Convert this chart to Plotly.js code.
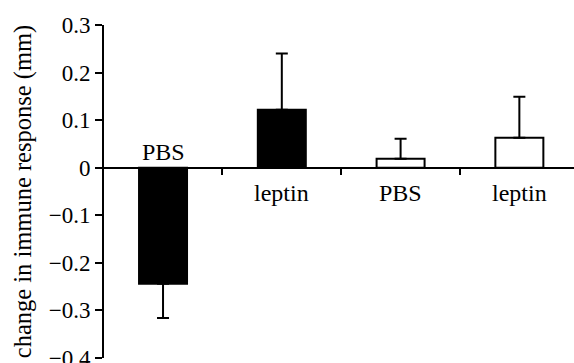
<!DOCTYPE html>
<html><head><meta charset="utf-8">
<script src="https://cdn.plot.ly/plotly-3.0.1.min.js"></script>
<style>html,body{margin:0;padding:0;background:#fff}</style>
</head><body>
<div id="chart" style="width:574px;height:363px"></div>
<script>
const categories = ["PBS", "leptin", "PBS", "leptin"];
const means = [-0.244, 0.122, 0.019, 0.063];
const errors = [0.072, 0.118, 0.042, 0.086];
const fills = ["#000000", "#000000", "#ffffff", "#ffffff"];
const yTicks = [-0.4, -0.3, -0.2, -0.1, 0, 0.1, 0.2, 0.3];

const xs = categories.map((_, i) => i);
const errUp = means.map((m, i) => m >= 0 ? errors[i] : 0);
const errDown = means.map((m, i) => m < 0 ? errors[i] : 0);
const font = "Liberation Serif";

const trace = {
  type: "bar",
  x: xs,
  y: means,
  width: 0.404,
  marker: {color: fills, line: {color: "#000", width: 2}},
  error_y: {type: "data", symmetric: false, array: errUp, arrayminus: errDown,
            color: "#000", thickness: 2, width: 6},
  hoverinfo: "none"
};

const annotations = categories.map((c, i) => ({
  x: xs[i], y: 0, xref: "x", yref: "y",
  text: c, showarrow: false,
  yanchor: means[i] < 0 ? "bottom" : "top",
  yshift: means[i] < 0 ? 1 : -10,
  font: {family: font, size: 24, color: "#000"}
}));

const layout = {
  width: 574, height: 363,
  margin: {l: 104, r: 0, t: 25, b: 5},
  paper_bgcolor: "#fff", plot_bgcolor: "#fff",
  showlegend: false,
  font: {family: font, size: 23, color: "#000"},
  xaxis: {
    range: [-0.497, 3.46], anchor: "free", position: 4/7,
    showline: true, linecolor: "#000", linewidth: 2,
    tickvals: xs.slice(0, -1).map(v => v + 0.5), ticktext: ["", "", ""],
    ticks: "outside", ticklen: 6, tickwidth: 2, tickcolor: "#000",
    showgrid: false, zeroline: false, fixedrange: true
  },
  yaxis: {
    range: [-0.4, 0.3],
    tickvals: yTicks, ticktext: yTicks.map(v => v === 0 ? "0" : (v < 0 ? "\u2212" + Math.abs(v).toFixed(1) : v.toFixed(1))),
    ticks: "outside", ticklen: 7, tickwidth: 2, tickcolor: "#000",
    showline: true, linecolor: "#000", linewidth: 2,
    showgrid: false, zeroline: false, ticklabeloverflow: "allow",
    tickfont: {family: font, size: 23, color: "#000"},
    title: {text: "change in immune response (mm)", standoff: 10,
            font: {family: font, size: 24.5, color: "#000"}}
  },
  annotations: annotations
};

Plotly.newPlot("chart", [trace], layout, {staticPlot: true});
</script>
</body></html>
